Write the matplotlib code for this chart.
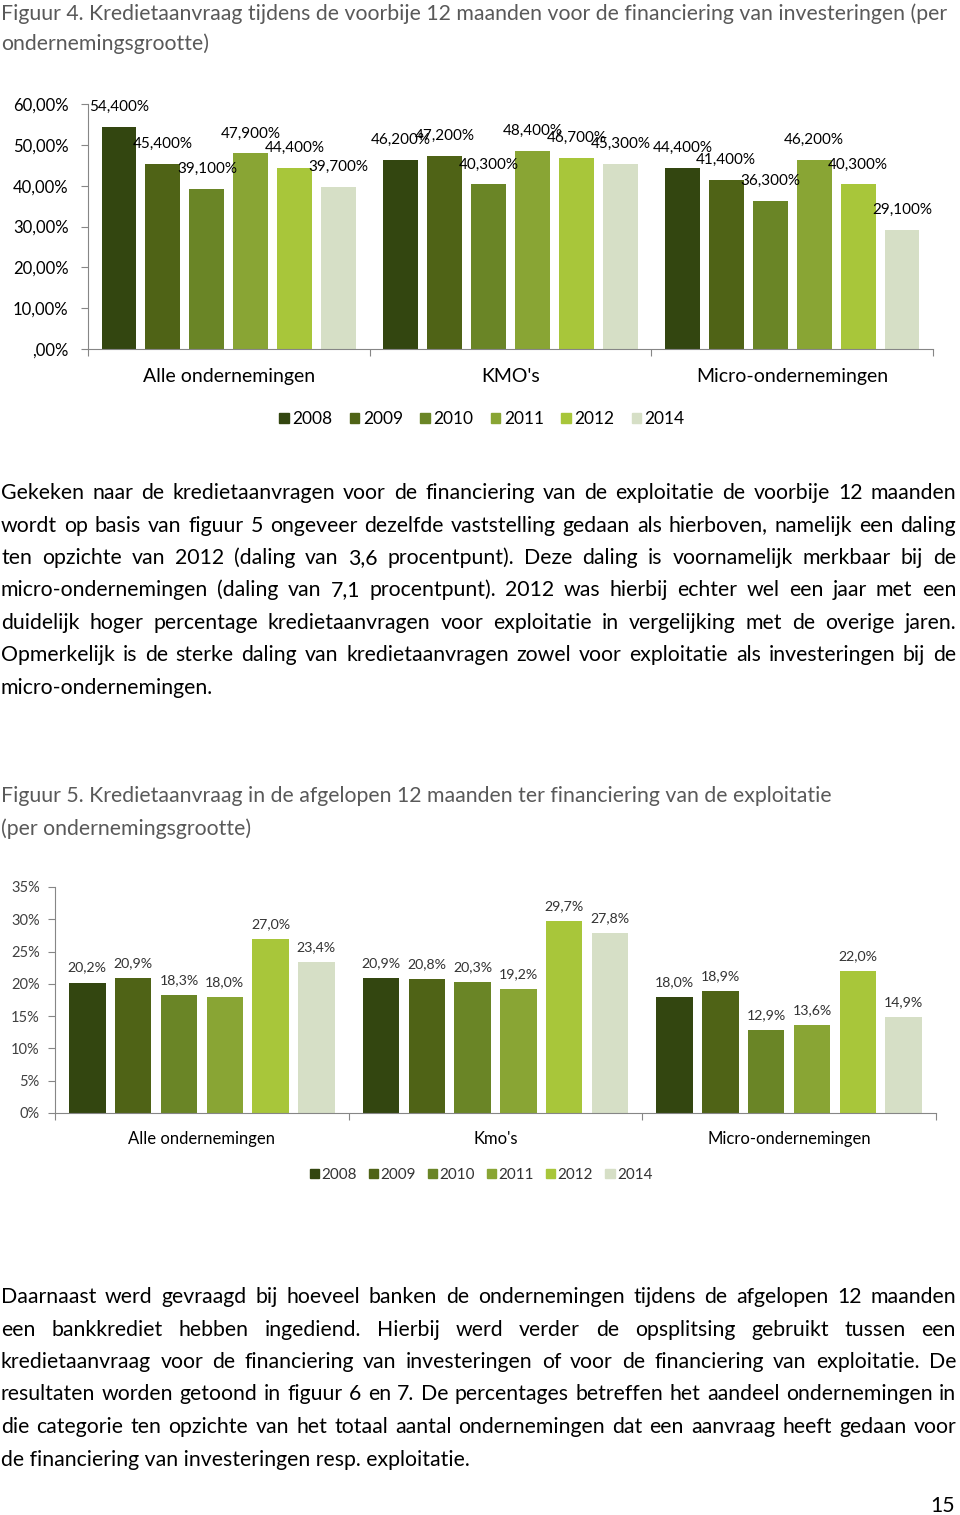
import numpy as np
import matplotlib.pyplot as plt
from matplotlib.patches import Patch

plt.rcParams['font.family'] = ['Lato', 'DejaVu Sans']

# data
years = ["2008", "2009", "2010", "2011", "2012", "2014"]
colors = ["#334610", "#4f6316", "#6a8526", "#89a534", "#a8c63a", "#d6dfc6"]

cats_fig4 = ["Alle ondernemingen", "KMO's", "Micro-ondernemingen"]
invest_alle = [54.4, 45.4, 39.1, 47.9, 44.4, 39.7]
invest_kmo = [46.2, 47.2, 40.3, 48.4, 46.7, 45.3]
invest_micro = [44.4, 41.4, 36.3, 46.2, 40.3, 29.1]
fig4_ticks = [0, 10, 20, 30, 40, 50, 60]
fig4_ticklabels = [",00%", "10,00%", "20,00%", "30,00%", "40,00%", "50,00%", "60,00%"]

cats_fig5 = ["Alle ondernemingen", "Kmo's", "Micro-ondernemingen"]
expl_alle = [20.2, 20.9, 18.3, 18.0, 27.0, 23.4]
expl_kmo = [20.9, 20.8, 20.3, 19.2, 29.7, 27.8]
expl_micro = [18.0, 18.9, 12.9, 13.6, 22.0, 14.9]
fig5_ticks = [0, 5, 10, 15, 20, 25, 30, 35]
fig5_ticklabels = ["0%", "5%", "10%", "15%", "20%", "25%", "30%", "35%"]

caption4 = ["Figuur 4. Kredietaanvraag tijdens de voorbije 12 maanden voor de financiering van investeringen (per",
            "ondernemingsgrootte)"]
caption5 = ["Figuur 5. Kredietaanvraag in de afgelopen 12 maanden ter financiering van de exploitatie",
            "(per ondernemingsgrootte)"]
para1 = ["Gekeken naar de kredietaanvragen voor de financiering van de exploitatie de voorbije 12 maanden",
         "wordt op basis van figuur 5 ongeveer dezelfde vaststelling gedaan als hierboven, namelijk een daling",
         "ten opzichte van 2012 (daling van 3,6 procentpunt). Deze daling is voornamelijk merkbaar bij de",
         "micro-ondernemingen (daling van 7,1 procentpunt). 2012 was hierbij echter wel een jaar met een",
         "duidelijk hoger percentage kredietaanvragen voor exploitatie in vergelijking met de overige jaren.",
         "Opmerkelijk is de sterke daling van kredietaanvragen zowel voor exploitatie als investeringen bij de",
         "micro-ondernemingen."]
para2 = ["Daarnaast werd gevraagd bij hoeveel banken de ondernemingen tijdens de afgelopen 12 maanden",
         "een bankkrediet hebben ingediend. Hierbij werd verder de opsplitsing gebruikt tussen een",
         "kredietaanvraag voor de financiering van investeringen of voor de financiering van exploitatie. De",
         "resultaten worden getoond in figuur 6 en 7. De percentages betreffen het aandeel ondernemingen in",
         "die categorie ten opzichte van het totaal aantal ondernemingen dat een aanvraag heeft gedaan voor",
         "de financiering van investeringen resp. exploitatie."]

W, H = 960, 1515
fig = plt.figure(figsize=(W / 100, H / 100), dpi=100)
renderer = fig.canvas.get_renderer()


def bar_chart(rect, groups, cats, ticks, ticklabels, ymax, fmt, lab_off, lab_size,
              lab_color, tick_size, tick_color, tick_pad, cat_size, cat_pad):
    ax = fig.add_axes(rect)
    step, width = 0.156, 0.124
    for j in range(len(years)):
        vals = [g[j] for g in groups]
        xs = np.arange(len(cats)) + 0.5 + (j - 2.5) * step
        bars = ax.bar(xs, vals, width, color=colors[j])
        for b, v in zip(bars, vals):
            ax.annotate(fmt(v), (b.get_x() + b.get_width() / 2, v), xytext=(0, lab_off),
                        textcoords='offset pixels', ha='center', va='center',
                        fontsize=lab_size, color=lab_color)
    ax.set_xlim(0, len(cats))
    ax.set_ylim(0, ymax)
    ax.set_yticks(ticks)
    ax.set_yticklabels(ticklabels, fontsize=tick_size, color=tick_color)
    ax.set_xticks(range(len(cats) + 1))
    ax.set_xticklabels([])
    ax.set_xticks(np.arange(len(cats)) + 0.5, minor=True)
    ax.set_xticklabels(cats, minor=True, fontsize=cat_size, color="#000000")
    ax.tick_params(axis='x', which='minor', length=0, pad=cat_pad)
    ax.tick_params(axis='both', which='major', length=5, color="#868686", direction='out')
    ax.tick_params(axis='y', pad=tick_pad)
    for s in ['top', 'right']:
        ax.spines[s].set_visible(False)
    for s in ['left', 'bottom']:
        ax.spines[s].set_color("#868686")
    return ax


# Figure 4 chart
bar_chart([88 / W, 1 - 349 / H, 845 / W, 245 / H],
          [invest_alle, invest_kmo, invest_micro], cats_fig4, fig4_ticks, fig4_ticklabels, 60,
          lambda v: f"{v:.3f}".replace('.', ',') + "%", 20, 11, "#000000",
          12, "#000000", 9, 14, 14)

# Figure 5 chart
bar_chart([55 / W, 1 - 1113 / H, 881 / W, 226 / H],
          [expl_alle, expl_kmo, expl_micro], cats_fig5, fig5_ticks, fig5_ticklabels, 35,
          lambda v: f"{v:.1f}".replace('.', ',') + "%", 15, 10.2, "#333333",
          10.5, "#404040", 6, 12, 13)

handles = [Patch(color=c) for c in colors]
fig.legend(handles, years, loc='center', bbox_to_anchor=(482 / W, 1 - 419 / H), ncol=6,
           frameon=False, fontsize=12.5, handlelength=0.55, handleheight=0.55,
           handletextpad=0.2, columnspacing=1.0)
fig.legend(handles, years, loc='center', bbox_to_anchor=(481 / W, 1 - 1175 / H), ncol=6,
           frameon=False, fontsize=11, handlelength=0.6, handleheight=0.6,
           handletextpad=0.15, columnspacing=0.8, labelcolor="#333333")


def text_block(lines, base0, dy, size, color, justify):
    for k, line in enumerate(lines):
        y = 1 - (base0 + k * dy) / H
        last = k == len(lines) - 1
        if not justify or last:
            fig.text(1 / W, y, line, fontsize=size, color=color, va='baseline')
            continue
        words = line.split(' ')
        texts = [fig.text(0, y, w, fontsize=size, color=color, va='baseline') for w in words]
        widths = [t.get_window_extent(renderer).width for t in texts]
        gap = (956 - 1 - sum(widths)) / (len(words) - 1)
        x = 1
        for t, w in zip(texts, widths):
            t.set_x(x / W)
            x += w + gap


text_block(caption4, 19.5, 31, 15.3, "#595959", False)
text_block(para1, 499, 32.5, 15.3, "#000000", True)
text_block(caption5, 802, 33, 15.3, "#595959", False)
text_block(para2, 1303, 32.5, 15.3, "#000000", True)
fig.text(955 / W, 1 - 1512 / H, "15", fontsize=15.3, ha='right', va='baseline')

fig.savefig("out.png", dpi=100)
